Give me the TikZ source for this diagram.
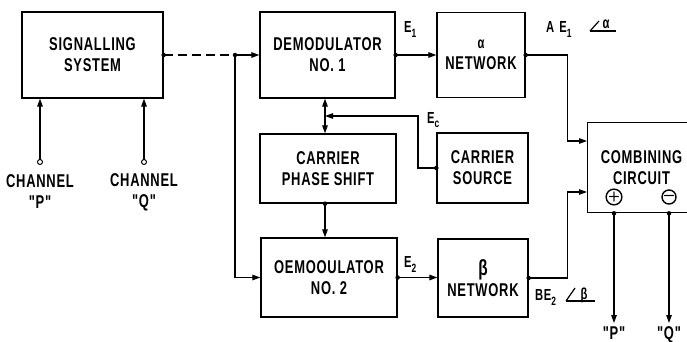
\documentclass[tikz,border=0pt]{standalone}
\usepackage{fontspec}
\newfontfamily\lett{Liberation Sans}[FakeStretch=0.7,LetterSpace=4]
\usetikzlibrary{arrows.meta,calc}
\newcommand\sbs[1]{\raisebox{-5pt}{\fontsize{12}{12}\selectfont #1}}
\tikzset{
 blk/.style={draw,line width=1.3pt,inner sep=0pt,align=center,font=\lett\bfseries\fontsize{18.5}{21}\selectfont},
 lbl/.style={inner sep=0pt,align=center,font=\lett\bfseries\fontsize{18.5}{21}\selectfont},
 elbl/.style={inner sep=0pt,font=\lett\bfseries\fontsize{16}{16}\selectfont},
 wire/.style={line width=1.2pt},
 conn/.style={wire,-{Triangle[length=8pt,width=5.5pt]}},
 dconn/.style={wire,{Triangle[length=8pt,width=5.5pt]}-{Triangle[length=8pt,width=5.5pt]}},
 dashwire/.style={wire,dash pattern=on 9pt off 5pt},
 dot/.style={circle,fill,inner sep=0pt,minimum size=4.5pt},
 odot/.style={circle,draw,fill=white,line width=1pt,inner sep=0pt,minimum size=5pt},
 sgn/.style={circle,draw,line width=1.4pt,inner sep=0pt,minimum size=14pt,font=\sffamily\bfseries\fontsize{14}{14}\selectfont},
}
\begin{document}
\begin{tikzpicture}[x=1pt,y=-1pt]
\useasboundingbox (0,0) rectangle (687,342);
\clip (0,0) rectangle (687,342);
% blocks
\node[blk,minimum width=141pt,minimum height=86pt] (sig) at (92.5,55) {SIGNALLING\\SYSTEM};
\node[blk,minimum width=135pt,minimum height=86pt] (d1) at (327.5,55) {DEMODULATOR\\NO. 1};
\node[blk,minimum width=88pt,minimum height=85pt] (an) at (481,55) {{\fontsize{16}{21}\selectfont α}\\NETWORK};
\node[blk,minimum width=136pt,minimum height=69pt] (cps) at (328,168.5) {CARRIER\\PHASE SHIFT};
\node[blk,minimum width=91pt,minimum height=70pt] (cs) at (482.5,168) {CARRIER\\SOURCE};
\node[blk,minimum width=136pt,minimum height=79pt] (d2) at (329,277.5) {OEMOOULATOR\\NO. 2};
\node[blk,minimum width=90pt,minimum height=78pt] (bn) at (483,278) {{\fontsize{22}{21}\selectfont β}\\NETWORK};
\node[blk,minimum width=130pt,minimum height=90pt,anchor=north west] (cc) at (587,122) {};
\node[lbl] (cct) at (641.5,168) {COMBINING\\CIRCUIT};
\node[sgn] (plus) at (614,197) {+};
\node[sgn] (minus) at (669,197) {−};
% coordinates
\coordinate (j) at (235,55);
\coordinate (vx) at (325,0);
\coordinate (ck) at (418,116);
\coordinate (ain) at ($(cc.north west)+(0,19)$);
\coordinate (bin) at ($(cc.north west)+(0,70)$);
\coordinate (chp) at (40,162);
\coordinate (chq) at (144,162);
\coordinate (pout) at (614,323);
\coordinate (qout) at (669,323);
% connectors
\draw[dashwire] (sig.east) -- (j);
\draw[conn] (j) -- (d1.west);
\draw[conn] (j) |- (d2.west);
\draw[conn] (d1.east) -- (an.west);
\draw[conn] (an.east) -- ++(42,0) |- (ain);
\draw[dconn] (d1.south -| vx) -- (cps.north -| vx);
\draw[conn] (cs.west) -| (ck) -- (ck -| vx);
\draw[conn] (cps.south -| vx) -- (d2.north -| vx);
\draw[conn] (d2.east) -- (d2.east -| bn.west);
\draw[conn] (bn.east) -- ++(39,0) |- (bin);
\draw[conn] (plus |- cc.south) -- (pout);
\draw[conn] (minus |- cc.south) -- (qout);
\draw[conn] (chp) -- (chp |- sig.south);
\draw[conn] (chq) -- (chq |- sig.south);
% dots
\node[dot] (p1) at (sig.east) {};
\node[dot] (p2) at (j) {};
\node[dot] (p3) at (d1.east) {};
\node[dot] (p4) at (an.east) {};
\node[dot] (p5) at (cs.west) {};
\node[dot] (p6) at (cps.south -| vx) {};
\node[dot] (p7) at (d2.east) {};
\node[dot] (p8) at (bn.east) {};
\node[dot] (p9) at (plus |- cc.south) {};
\node[dot] (p10) at (minus |- cc.south) {};
\node[odot] (o1) at (chp) {};
\node[odot] (o2) at (chq) {};
% labels
\node[lbl] (chpl) at (40,192) {CHANNEL\\"P"};
\node[lbl] (chql) at (144,192) {CHANNEL\\"Q"};
\node[elbl,anchor=base west] (e1) at (404,33) {E\sbs{1}};
\node[elbl,anchor=base west] (ec) at (427,123) {E\sbs{c}};
\node[elbl,anchor=base west] (e2) at (404,267) {E\sbs{2}};
\node[elbl,anchor=base west] (ae) at (546,33) {A\hspace{5pt}E\sbs{1}};
\draw[wire] (590,31) -- (599,21);
\draw[wire] (590,31) -- (616,31);
\node[elbl,anchor=base] (al) at (606,29) {α};
\node[elbl,anchor=base west] (be) at (535,300) {BE\sbs{2}};
\draw[wire] (566,301) -- (575,288);
\draw[wire] (566,301) -- (595,301);
\node[elbl,anchor=base] (bt) at (584,299) {β};
\node[lbl,anchor=base] (po) at (614,339) {"P"};
\node[lbl,anchor=base] (qo) at (669,339) {"Q"};
\end{tikzpicture}
\end{document}
